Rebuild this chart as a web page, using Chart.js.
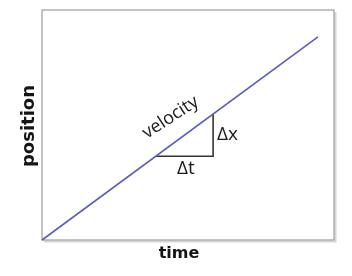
<!DOCTYPE html>
<html>
<head>
<meta charset="utf-8">
<script src="https://cdn.jsdelivr.net/npm/chart.js@4"></script>
<style>
  html, body { margin: 0; padding: 0; background: #fff; }
</style>
</head>
<body>
<canvas id="grafico" width="352" height="276"></canvas>
<script>
// valores de la recta (tiempo -> posicion)
const timeValues = [0, 9.45];
const positionValues = [0, 8.83];
// triangulo de la pendiente
const deltaTimes = [3.9, 5.86, 5.86];
const deltaPositions = [3.64, 3.64, 5.47];
const axisTitles = ["time", "position"];
const labelTexts = ["velocity", "Δx", "Δt"];

const linea = timeValues.map((t, i) => ({ x: t, y: positionValues[i] }));
const triangulo = deltaTimes.map((t, i) => ({ x: t, y: deltaPositions[i] }));

const plugin_etiquetas = {
  id: "etiquetas",
  beforeDatasetsDraw: (chart) => {
    const { ctx, chartArea: a } = chart;
    ctx.save();
    // sombra del recuadro
    ctx.strokeStyle = "#d6d6d6";
    ctx.lineWidth = 2;
    ctx.beginPath();
    ctx.moveTo(a.right + 1.5, a.top + 2);
    ctx.lineTo(a.right + 1.5, a.bottom + 1.5);
    ctx.lineTo(a.left + 2, a.bottom + 1.5);
    ctx.stroke();
    // recuadro
    ctx.strokeStyle = "#9c9c9c";
    ctx.lineWidth = 1.2;
    ctx.strokeRect(a.left, a.top, a.right - a.left, a.bottom - a.top);
    ctx.restore();
  },
  afterDatasetsDraw: (chart) => {
    const { ctx, chartArea: a, scales } = chart;
    const xs = scales.x;
    ctx.save();
    ctx.fillStyle = "#151515";
    // titulos de ejes
    ctx.textAlign = "center";
    ctx.textBaseline = "middle";
    ctx.font = "bold 16px 'DejaVu Sans'";
    ctx.fillText(axisTitles[0], (a.left + a.right) / 2 - 9, 254);
    ctx.save();
    ctx.translate(29, (a.top + a.bottom) / 2 + 1);
    ctx.rotate(-Math.PI / 2);
    ctx.font = "bold 18px 'DejaVu Sans'";
    ctx.fillText(axisTitles[1], 0, 0);
    ctx.restore();

    // etiqueta velocity sobre la recta
    ctx.fillStyle = "#1c1c1c";
    ctx.font = "18px 'Open Sans'";
    ctx.save();
    ctx.translate(147, 139);
    ctx.rotate(-0.58);
    ctx.textAlign = "left";
    ctx.textBaseline = "alphabetic";
    ctx.fillText(labelTexts[0], 0, 0);
    ctx.restore();

    // etiquetas del triangulo
    ctx.font = "19px 'Open Sans'";
    ctx.textBaseline = "middle";
    ctx.textAlign = "left";
    ctx.fillText(labelTexts[1], xs.getPixelForValue(deltaTimes[1]) + 4, 135);
    ctx.textAlign = "center";
    ctx.fillText(labelTexts[2], 186, 169);
    ctx.restore();
  },
};

const ctx = document.getElementById("grafico").getContext("2d");
const chart = new Chart(ctx, {
  type: "line",
  data: {
    datasets: [
      {
        data: linea,
        borderColor: "#5c5cbc",
        borderWidth: 1.6,
        pointRadius: 0,
        clip: false,
      },
      {
        data: triangulo,
        borderColor: "#333333",
        borderWidth: 1.6,
        pointRadius: 0,
        clip: false,
      },
    ],
  },
  options: {
    responsive: false,
    animation: false,
    layout: { padding: { left: 42, top: 10, right: 18, bottom: 36 } },
    plugins: {
      legend: { display: false },
      tooltip: { enabled: false },
    },
    scales: {
      x: { type: "linear", min: 0, max: 10, display: false },
      y: { type: "linear", min: 0, max: 10, display: false },
    },
  },
  plugins: [plugin_etiquetas],
});
</script>
</body>
</html>
